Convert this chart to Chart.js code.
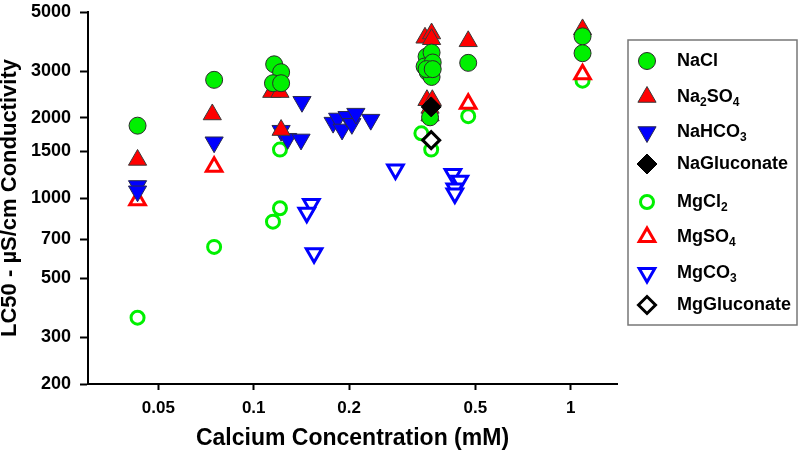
<!DOCTYPE html>
<html><head><meta charset="utf-8">
<script src="https://cdn.jsdelivr.net/npm/chart.js@4.4.0/dist/chart.umd.min.js"></script>
<style>html,body{margin:0;padding:0;background:#fff;}#wrap{width:800px;height:452px;position:relative;}</style>
</head><body><div id="wrap"><canvas id="c" width="800" height="452"></canvas></div>
<script>
// ---------- data ----------
const seriesNames = ['NaCl','Na{2}SO{4}','NaHCO{3}','NaGluconate','MgCl{2}','MgSO{4}','MgCO{3}','MgGluconate'];

const naclX = [0.043, 0.075, 0.116, 0.122, 0.115, 0.122, 0.351, 0.364, 0.346, 0.367, 0.354, 0.364, 0.351, 0.367, 0.36, 0.475, 1.09, 1.09];
const naclY = [1870, 2780, 3180, 2970, 2700, 2700, 3400, 3520, 3120, 3230, 2970, 2850, 3050, 3050, 2010, 3220, 4050, 3500];

const na2so4X = [0.043, 0.074, 0.114, 0.121, 0.122, 0.347, 0.364, 0.364, 0.352, 0.366, 0.36, 0.36, 0.475, 1.09];
const na2so4Y = [1390, 2060, 2500, 2500, 1800, 4000, 4150, 3950, 2330, 2330, 2180, 2040, 3880, 4300];

const nahco3X = [0.043, 0.043, 0.075, 0.142, 0.122, 0.128, 0.141, 0.178, 0.184, 0.19, 0.197, 0.204, 0.21, 0.234];
const nahco3Y = [1110, 1060, 1620, 2300, 1790, 1670, 1660, 1920, 1990, 1810, 2020, 1900, 2075, 1970];

const nagluX = [0.363];
const nagluY = [2200];

const mgcl2X = [0.043, 0.075, 0.121, 0.121, 0.115, 0.338, 0.363, 0.475, 1.09];
const mgcl2Y = [355, 655, 1520, 915, 815, 1750, 1520, 2030, 2760];

const mgso4X = [0.043, 0.075, 0.475, 1.09];
const mgso4Y = [980, 1310, 2260, 2920];

const mgco3X = [0.152, 0.147, 0.155, 0.28, 0.425, 0.447, 0.431, 0.431];
const mgco3Y = [950, 880, 620, 1280, 1230, 1160, 1085, 1040];

const mggluX = [0.363];
const mggluY = [1650];

const xTicks = [0.05, 0.1, 0.2, 0.5, 1];
const yTicks = [200, 300, 500, 700, 1000, 1500, 2000, 3000, 5000];

// ---------- styles ----------
const FAMILY = '"Liberation Sans", Arial, Helvetica, sans-serif';
const GREEN = '#00f000', RED = '#ff0000', BLUE = '#0000ff';
const styles = [
  {pointStyle:'circle',   radius:8.5, rotation:0,   fill:GREEN, stroke:'#2a2a2a', bw:1, order:1},
  {pointStyle:'triangle', radius:10.5,rotation:0,   fill:RED,   stroke:'#3a3a3a', bw:1, order:2},
  {pointStyle:'triangle', radius:10.5,rotation:180, fill:BLUE,  stroke:'#2a2a50', bw:1, order:3},
  {pointStyle:'rectRot',  radius:10,  rotation:0,   fill:'#000',stroke:'#000',    bw:1, order:0},
  {pointStyle:'circle',   radius:6.5, rotation:0,   fill:'#fff',stroke:GREEN,     bw:3, order:6},
  {pointStyle:'triangle', radius:9,   rotation:0,   fill:'#fff',stroke:RED,       bw:3, order:5},
  {pointStyle:'triangle', radius:9,   rotation:180, fill:'#fff',stroke:BLUE,      bw:3, order:5},
  {pointStyle:'rectRot',  radius:8.5, rotation:0,   fill:'#fff',stroke:'#000',    bw:3, order:0}
];
const xs = [naclX, na2so4X, nahco3X, nagluX, mgcl2X, mgso4X, mgco3X, mggluX];
const ys = [naclY, na2so4Y, nahco3Y, nagluY, mgcl2Y, mgso4Y, mgco3Y, mggluY];

const datasets = seriesNames.map((n, i) => ({
  label: n.replace(/[{}]/g, ''),
  data: xs[i].map((x, j) => ({x: x, y: ys[i][j]})),
  pointStyle: styles[i].pointStyle,
  pointRadius: styles[i].radius,
  pointRotation: styles[i].rotation,
  backgroundColor: styles[i].fill,
  borderColor: styles[i].stroke,
  pointBorderWidth: styles[i].bw,
  borderWidth: styles[i].bw,
  order: styles[i].order,
  showLine: false
}));

// ---------- legend plugin ----------
const legendPlugin = {
  id: 'boxLegend',
  afterDraw(chart) {
    const ctx = chart.ctx;
    const box = {l: 628, t: 40, r: 797, b: 325};
    const rowY = [61, 97, 132, 164, 202, 237, 273, 305];
    ctx.save();
    ctx.strokeStyle = '#777';
    ctx.lineWidth = 1.5;
    ctx.strokeRect(box.l, box.t, box.r - box.l, box.b - box.t);
    seriesNames.forEach((name, i) => {
      const s = styles[i];
      const y = rowY[i];
      ctx.fillStyle = s.fill;
      ctx.strokeStyle = s.stroke;
      ctx.lineWidth = s.bw;
      Chart.helpers.drawPoint(ctx, {pointStyle: s.pointStyle, radius: s.radius, rotation: s.rotation, borderWidth: s.bw}, 647, y);
      let x = 677;
      const parts = name.split(/(\{[^}]*\})/).filter(p => p.length);
      ctx.fillStyle = '#000';
      ctx.textBaseline = 'middle';
      ctx.textAlign = 'left';
      parts.forEach(p => {
        if (p[0] === '{') {
          const t = p.slice(1, -1);
          ctx.font = 'bold 12px ' + FAMILY;
          ctx.fillText(t, x, y + 6);
          x += ctx.measureText(t).width;
        } else {
          ctx.font = 'bold 18px ' + FAMILY;
          ctx.fillText(p, x, y);
          x += ctx.measureText(p).width;
        }
      });
    });
    ctx.restore();
  }
};

new Chart(document.getElementById('c'), {
  type: 'scatter',
  data: {datasets},
  plugins: [legendPlugin],
  options: {
    responsive: false,
    animation: false,
    events: [],
    layout: {padding: {left: 0, right: 183, top: -2, bottom: 0}},
    plugins: {legend: {display: false}, tooltip: {enabled: false}},
    scales: {
      x: {
        type: 'logarithmic', min: 0.03, max: 1.4,
        afterBuildTicks: s => { s.ticks = xTicks.map(v => ({value: v})); },
        afterFit: s => { s.height = 68; s.paddingLeft = 0; s.paddingRight = 0; },
        grid: {drawOnChartArea: false, drawTicks: true, tickLength: 6, tickWidth: 2, tickColor: '#000'},
        border: {display: true, color: '#000', width: 2},
        ticks: {color: '#000', font: {family: FAMILY, size: 17, weight: 'bold'}, padding: 8, autoSkip: false, maxRotation: 0,
                callback: v => String(v)},
        title: {display: true, text: 'Calcium Concentration (mM)', color: '#000',
                font: {family: FAMILY, size: 23, weight: 'bold'}, padding: {top: 0, bottom: 0}}
      },
      y: {
        type: 'logarithmic', min: 200, max: 5000,
        afterBuildTicks: s => { s.ticks = yTicks.map(v => ({value: v})); },
        afterFit: s => { s.width = 88; s.paddingTop = 0; s.paddingBottom = 0; },
        grid: {drawOnChartArea: false, drawTicks: true, tickLength: 8, tickWidth: 2, tickColor: '#000'},
        border: {display: true, color: '#000', width: 2},
        ticks: {color: '#000', font: {family: FAMILY, size: 18, weight: 'bold'}, padding: 9, autoSkip: false,
                callback: v => String(v)},
        title: {display: true, text: 'LC50 - µS/cm Conductivity', color: '#000',
                font: {family: FAMILY, size: 22, weight: 'bold', lineHeight: 1}, padding: {top: -1, bottom: 0}}
      }
    }
  }
});
</script></body></html>
